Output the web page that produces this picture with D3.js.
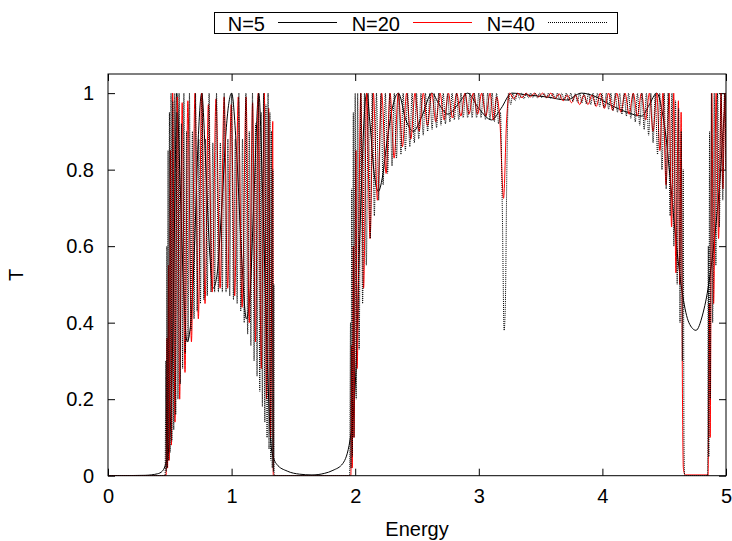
<!DOCTYPE html>
<html>
<head>
<meta charset="utf-8">
<script src="https://cdn.jsdelivr.net/npm/d3@7"></script>
<style>
  body { margin: 0; background: #fff; }
  text { font-family: "Liberation Sans", Arial, sans-serif; }
</style>
</head>
<body>
<div id="chart"></div>
<script>
// Axis ticks and legend labels
const xTicks = [0, 1, 2, 3, 4, 5];
const yTicks = [0, 0.2, 0.4, 0.6, 0.8, 1];
const seriesNames = ["N=5", "N=20", "N=40"];

// N=5 transmission
const n5Curve = [[0,0],[0.2,0.0005],[0.3,0.001],[0.4,0.005],[0.44,0.012],[0.46,0.024],[0.48,0.05],[0.5,0.1],[0.52,0.3],[0.54,0.7],[0.556,1],[0.58,0.8],[0.61,0.5],[0.64,0.35],[0.67,0.4],[0.7,0.6],[0.73,0.88],[0.758,1],[0.79,0.82],[0.82,0.6],[0.85,0.49],[0.88,0.52],[0.92,0.7],[0.96,0.92],[1.0,1],[1.04,0.85],[1.08,0.58],[1.12,0.41],[1.15,0.48],[1.18,0.72],[1.22,1],[1.25,0.75],[1.28,0.4],[1.3,0.2],[1.324,0.067],[1.365,0.03],[1.45,0.012],[1.55,0.004],[1.65,0.002],[1.75,0.006],[1.82,0.014],[1.9,0.032],[1.958,0.093],[1.985,0.16],[2.012,0.33],[2.03,0.55],[2.05,0.75],[2.07,0.92],[2.093,1],[2.12,0.92],[2.15,0.8],[2.187,0.743],[2.22,0.78],[2.26,0.88],[2.3,0.96],[2.349,1],[2.41,0.93],[2.47,0.9],[2.54,0.94],[2.62,1],[2.68,0.97],[2.75,0.945],[2.83,0.97],[2.91,1],[3.0,0.96],[3.104,0.93],[3.18,0.96],[3.266,1],[3.4,0.995],[3.55,0.99],[3.71,0.982],[3.83,1],[3.95,0.99],[4.06,0.97],[4.2,0.95],[4.318,0.94],[4.38,0.97],[4.44,1],[4.49,0.94],[4.52,0.87],[4.547,0.78],[4.6,0.6],[4.65,0.47],[4.7,0.4],[4.757,0.38],[4.81,0.42],[4.86,0.5],[4.91,0.63],[4.951,0.773],[4.98,0.92],[5,1]];

// N=20 transmission, band by band
const n20Band1 = [[0,0],[0.47,0],[0.478,0.36],[0.482,0.02],[0.49,0.55],[0.495,0.04],[0.505,0.85],[0.513,0.08],[0.523,1],[0.542,0.14],[0.561,0.99],[0.58,0.2],[0.6,0.975],[0.623,0.27],[0.646,0.98],[0.675,0.35],[0.704,1],[0.731,0.41],[0.758,1],[0.785,0.45],[0.812,0.97],[0.843,0.48],[0.874,0.985],[0.907,0.49],[0.94,0.99],[0.968,0.49],[0.997,0.97],[1.025,0.47],[1.054,0.99],[1.085,0.44],[1.117,0.99],[1.143,0.4],[1.17,0.975],[1.193,0.35],[1.216,1],[1.24,0.28],[1.265,1],[1.283,0.2],[1.3,0.96],[1.315,0.1],[1.333,0.926],[1.337,0]];
const n20Band2 = [[1.96,0],[1.965,0],[1.972,0.34],[1.976,0.02],[1.985,0.6],[1.99,0.1],[2.006,0.85],[2.015,0.28],[2.045,1],[2.068,0.49],[2.093,1],[2.12,0.62],[2.147,1],[2.18,0.72],[2.214,1],[2.25,0.79],[2.282,1],[2.315,0.83],[2.349,1],[2.382,0.86],[2.416,1],[2.45,0.88],[2.484,1],[2.517,0.9],[2.551,1],[2.585,0.915],[2.619,1],[2.652,0.925],[2.686,1],[2.72,0.93],[2.754,1],[2.787,0.935],[2.821,1],[2.855,0.94],[2.888,1],[2.92,0.945],[2.956,1],[2.99,0.945],[3.023,1],[3.057,0.94],[3.091,1],[3.118,0.93],[3.145,0.99],[3.17,0.93],[3.2,0.725],[3.225,0.93],[3.25,1],[3.283,0.985],[3.316,1],[3.35,0.988],[3.383,1],[3.416,0.99],[3.45,1],[3.483,0.99],[3.516,1],[3.55,0.988],[3.583,1],[3.616,0.985],[3.65,0.998],[3.683,0.98],[3.716,0.995],[3.75,0.975],[3.783,0.995],[3.816,0.97],[3.85,0.995],[3.883,0.97],[3.916,0.995],[3.95,0.965],[3.983,1],[4.016,0.96],[4.05,1],[4.083,0.955],[4.116,1],[4.15,0.95],[4.183,1],[4.216,0.945],[4.25,1],[4.283,0.94],[4.316,1],[4.35,0.93],[4.38,1],[4.41,0.9],[4.44,1],[4.465,0.85],[4.49,1],[4.515,0.76],[4.54,1],[4.56,0.65],[4.577,1],[4.595,0.53],[4.615,0.98],[4.625,0.5],[4.637,0.95],[4.648,0.2],[4.655,0.02],[4.67,0.002],[4.85,0.002]];
const n20Band3 = [[4.855,0],[4.865,0.45],[4.872,0.1],[4.885,1],[4.9,0.45],[4.92,1],[4.94,0.62],[4.96,1],[4.975,0.75],[4.99,1],[5,0.8]];

// N=40 transmission, band by band
const n40Band1 = [[0,0],[0.462,0],[0.468,0.3],[0.471,0.01],[0.476,0.6],[0.48,0.02],[0.486,0.85],[0.49,0.04],[0.497,0.95],[0.503,0.06],[0.51,1],[0.517,0.09],[0.524,0.98],[0.532,0.12],[0.54,1],[0.548,0.16],[0.557,0.95],[0.566,0.2],[0.575,1],[0.585,0.24],[0.594,0.92],[0.604,0.28],[0.614,1],[0.625,0.32],[0.636,0.9],[0.648,0.35],[0.659,1],[0.671,0.38],[0.683,0.9],[0.696,0.41],[0.708,1],[0.721,0.43],[0.734,0.88],[0.748,0.45],[0.761,1],[0.775,0.46],[0.789,0.88],[0.803,0.47],[0.818,1],[0.833,0.48],[0.848,0.87],[0.863,0.48],[0.878,1],[0.893,0.48],[0.909,0.87],[0.925,0.48],[0.94,1],[0.955,0.48],[0.97,0.88],[0.985,0.47],[1.0,1],[1.015,0.46],[1.03,0.88],[1.045,0.45],[1.059,1],[1.074,0.43],[1.088,0.88],[1.102,0.4],[1.116,1],[1.13,0.37],[1.143,0.9],[1.156,0.34],[1.169,1],[1.182,0.3],[1.194,0.92],[1.206,0.26],[1.217,1],[1.228,0.22],[1.239,0.95],[1.249,0.18],[1.259,1],[1.269,0.14],[1.278,0.97],[1.287,0.1],[1.295,1],[1.303,0.07],[1.31,0.95],[1.317,0.04],[1.323,0.9],[1.329,0.02],[1.334,0.8],[1.338,0.01],[1.342,0.5],[1.345,0]];
const n40Band2 = [[1.955,0],[1.962,0.4],[1.966,0.02],[1.972,0.75],[1.977,0.05],[1.985,0.95],[1.99,0.1],[2.0,1],[2.008,0.2],[2.02,1],[2.032,0.33],[2.046,1],[2.06,0.45],[2.075,1],[2.09,0.55],[2.106,1],[2.122,0.62],[2.138,1],[2.155,0.68],[2.172,1],[2.19,0.72],[2.208,1],[2.226,0.76],[2.244,1],[2.262,0.79],[2.28,1],[2.298,0.81],[2.316,1],[2.334,0.83],[2.352,1],[2.37,0.84],[2.388,1],[2.406,0.85],[2.424,1],[2.442,0.86],[2.46,1],[2.478,0.87],[2.496,1],[2.514,0.88],[2.532,1],[2.55,0.89],[2.568,1],[2.586,0.9],[2.604,1],[2.622,0.905],[2.64,1],[2.658,0.91],[2.676,1],[2.694,0.915],[2.712,1],[2.73,0.92],[2.748,1],[2.766,0.925],[2.784,1],[2.802,0.93],[2.82,1],[2.838,0.93],[2.856,1],[2.874,0.935],[2.892,1],[2.91,0.935],[2.928,1],[2.946,0.935],[2.964,1],[2.982,0.935],[3.0,1],[3.018,0.935],[3.036,1],[3.054,0.93],[3.072,1],[3.09,0.93],[3.108,1],[3.126,0.925],[3.144,1],[3.16,0.92],[3.175,0.95],[3.19,0.7],[3.205,0.38],[3.215,0.45],[3.227,0.8],[3.24,1],[3.258,0.97],[3.276,1],[3.294,0.98],[3.312,1],[3.33,0.985],[3.348,1],[3.366,0.985],[3.384,1],[3.402,0.988],[3.42,1],[3.438,0.988],[3.456,1],[3.474,0.988],[3.492,1],[3.51,0.988],[3.528,1],[3.546,0.987],[3.564,1],[3.582,0.986],[3.6,1],[3.618,0.985],[3.636,1],[3.654,0.984],[3.672,1],[3.69,0.982],[3.708,1],[3.726,0.98],[3.744,1],[3.762,0.978],[3.78,1],[3.798,0.976],[3.816,1],[3.834,0.974],[3.852,1],[3.87,0.972],[3.888,1],[3.906,0.97],[3.924,1],[3.942,0.968],[3.96,1],[3.978,0.965],[3.996,1],[4.014,0.962],[4.032,1],[4.05,0.958],[4.068,1],[4.086,0.954],[4.104,1],[4.122,0.95],[4.14,1],[4.158,0.945],[4.176,1],[4.194,0.94],[4.212,1],[4.23,0.933],[4.248,1],[4.266,0.925],[4.284,1],[4.302,0.915],[4.32,1],[4.338,0.905],[4.356,1],[4.374,0.89],[4.392,1],[4.41,0.87],[4.428,1],[4.446,0.84],[4.464,1],[4.482,0.8],[4.5,1],[4.516,0.75],[4.532,1],[4.548,0.68],[4.563,1],[4.578,0.6],[4.592,0.98],[4.605,0.5],[4.617,0.96],[4.628,0.4],[4.638,0.9],[4.647,0.3],[4.654,0.8],[4.66,0.1],[4.665,0],[4.85,0]];
const n40Band3 = [[4.852,0.05],[4.857,0.6],[4.861,0.05],[4.867,0.9],[4.873,0.2],[4.882,1],[4.892,0.4],[4.905,1],[4.918,0.55],[4.932,1],[4.946,0.65],[4.96,1],[4.974,0.72],[4.988,1],[5,0.8]];

const width = 732;
const height = 541;
const plot = { left: 108, right: 726, top: 74, bottom: 475.7 };

const svg = d3.select("#chart")
    .append("svg")
    .attr("width", width)
    .attr("height", height);

const x = d3.scaleLinear().domain([0, 5]).range([plot.left, plot.right]);
const y = d3.scaleLinear().domain([0, 1.05]).range([plot.bottom, plot.top]);

svg.append("clipPath")
    .attr("id", "plotClip")
    .append("rect")
    .attr("x", plot.left)
    .attr("y", plot.top)
    .attr("width", plot.right - plot.left)
    .attr("height", plot.bottom - plot.top);

const fontSize = 20;

// Axes with inward ticks (mirrored on top and right)
const bottomAxis = svg.append("g")
    .attr("transform", `translate(0,${plot.bottom})`)
    .call(d3.axisBottom(x).tickValues(xTicks).tickSize(-7).tickPadding(13).tickFormat(d3.format("~g")));
const leftAxis = svg.append("g")
    .attr("transform", `translate(${plot.left},0)`)
    .call(d3.axisLeft(y).tickValues(yTicks).tickSize(-7).tickPadding(14).tickFormat(d3.format("~g")));
const topAxis = svg.append("g")
    .attr("transform", `translate(0,${plot.top})`)
    .call(d3.axisTop(x).tickValues(xTicks).tickSize(-7).tickFormat(""));
const rightAxis = svg.append("g")
    .attr("transform", `translate(${plot.right},0)`)
    .call(d3.axisRight(y).tickValues(yTicks).tickSize(-7).tickFormat(""));

[bottomAxis, leftAxis, topAxis, rightAxis].forEach((ax) => {
    ax.select(".domain").remove();
    ax.selectAll("line").attr("stroke", "#000");
    ax.selectAll("text")
        .attr("font-size", fontSize)
        .attr("font-family", "'Liberation Sans', Arial, sans-serif")
        .attr("fill", "#000");
});

// Curves (monotone keeps peaks at their read values, no overshoot)
const g = svg.append("g").attr("clip-path", "url(#plotClip)");

const line = d3.line()
    .x((d) => x(d[0]))
    .y((d) => y(d[1]))
    .curve(d3.curveMonotoneX);

const series = [
    { data: n5Curve, color: "#000", dash: null },
    { data: [...n20Band1, ...n20Band2, ...n20Band3], color: "#ff0000", dash: null },
    { data: [...n40Band1, ...n40Band2, ...n40Band3], color: "#000", dash: "1,1" },
];

series.forEach((s) => {
    g.append("path")
        .datum(s.data)
        .attr("fill", "none")
        .attr("stroke", s.color)
        .attr("stroke-width", 1)
        .attr("stroke-dasharray", s.dash)
        .attr("d", line);
});

// Frame
svg.append("rect")
    .attr("x", plot.left)
    .attr("y", plot.top)
    .attr("width", plot.right - plot.left)
    .attr("height", plot.bottom - plot.top)
    .attr("fill", "none")
    .attr("stroke", "#000")
    .attr("stroke-width", 1);

// Axis labels
svg.append("text")
    .attr("x", (plot.left + plot.right) / 2)
    .attr("y", 536)
    .attr("text-anchor", "middle")
    .attr("font-size", fontSize)
    .text("Energy");

svg.append("text")
    .attr("transform", "translate(23,275) rotate(-90)")
    .attr("text-anchor", "middle")
    .attr("font-size", fontSize)
    .text("T");

// Legend
const legend = svg.append("g");
legend.append("rect")
    .attr("x", 214.5)
    .attr("y", 12.5)
    .attr("width", 403)
    .attr("height", 21)
    .attr("fill", "#fff")
    .attr("stroke", "#000");

const legendX = [265, 400, 535];
series.forEach((s, i) => {
    legend.append("text")
        .attr("x", legendX[i])
        .attr("y", 30.5)
        .attr("text-anchor", "end")
        .attr("font-size", fontSize)
        .text(seriesNames[i]);
    legend.append("line")
        .attr("x1", legendX[i] + 13)
        .attr("x2", legendX[i] + 72)
        .attr("y1", 22.5)
        .attr("y2", 22.5)
        .attr("stroke", s.color)
        .attr("stroke-dasharray", s.dash);
});
</script>
</body>
</html>
